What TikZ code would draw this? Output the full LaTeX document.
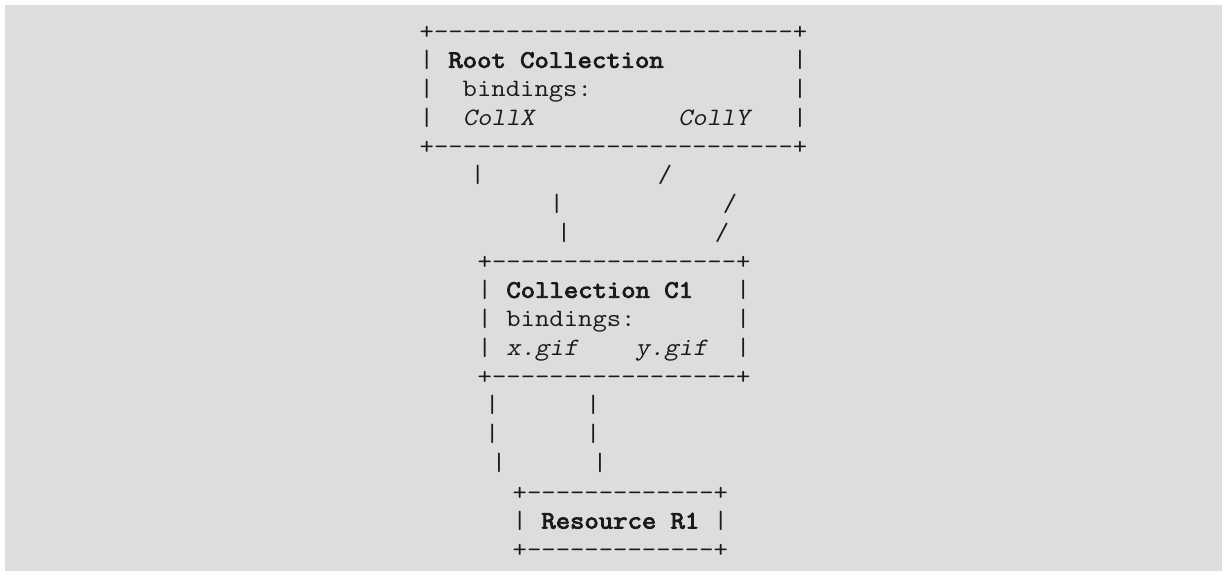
\documentclass[tikz,border=0pt]{standalone}
\usepackage{fontspec}
\setmonofont{Latin Modern Mono}[FakeStretch=1.115,Ligatures=ResetAll,
	BoldFont={Latin Modern Mono},BoldFeatures={FakeBold=3.5},
	ItalicFont={Latin Modern Mono},ItalicFeatures={FakeSlant=0.2}]
\usepackage{tikz}
\usetikzlibrary{positioning}
\definecolor{pagegray}{RGB}{221,221,221}
\definecolor{inkgray}{RGB}{26,26,26}

\begin{document}
\begin{tikzpicture}[x=1pt,y=-1pt,inner sep=0pt,text=inkgray,
	font=\ttfamily\fontsize{25}{29}\selectfont]
	\tikzstyle{row}=[anchor=base west]
	\tikzstyle{link}=[anchor=base]
	\useasboundingbox (0,0) rectangle (1223,571);
	\fill[pagegray] (5,5) rectangle (1222,571);

	\node[row](rootTop) at (419.5,39) {+-------------------------+};
	\node[row](rootName) at (419.5,67.75) {|~\textbf{Root~Collection}~~~~~~~~~|};
	\node[row](rootBind) at (419.5,96.5) {|~~bindings:~~~~~~~~~~~~~~|};
	\node[row](rootColl) at (419.5,125.25) {|~~\textit{CollX}~~~~~~~~~~\textit{CollY}~~~|};
	\node[row](rootBot) at (419.5,154) {+-------------------------+};

	\node[link](xA) at (477.7,182.75) {|};
	\node[link](yA) at (665,182.75) {/};
	\node[link](xB) at (556.7,211.5) {|};
	\node[link](yB) at (730,211.5) {/};
	\node[link](xC) at (564,240.25) {|};
	\node[link](yC) at (722,240.25) {/};

	\node[row](collTop) at (477.5,269) {+-----------------+};
	\node[row](collName) at (477.5,297.75) {|~\textbf{Collection~C1}~~~|};
	\node[row](collBind) at (477.5,326.5) {|~bindings:~~~~~~~|};
	\node[row](collGif) at (477.5,355.25) {|~\textit{x.gif}~~~~\textit{y.gif}~~|};
	\node[row](collBot) at (477.5,384) {+-----------------+};

	\node[link](gA) at (492.3,412.75) {|};
	\node[link](hA) at (593.3,412.75) {|};
	\node[link](gB) at (492.3,441.5) {|};
	\node[link](hB) at (593.3,441.5) {|};
	\node[link](gC) at (499,470.25) {|};
	\node[link](hC) at (600,470.25) {|};

	\node[row](resTop) at (512.5,500) {+-------------+};
	\node[row](resName) at (512.5,528.5) {|~\textbf{Resource~R1}~|};
	\node[row](resBot) at (512.5,557) {+-------------+};
\end{tikzpicture}
\end{document}
